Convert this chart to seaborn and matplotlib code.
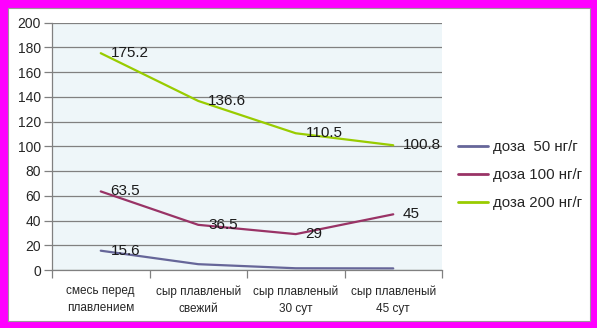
import matplotlib
matplotlib.use("Agg")
import matplotlib.pyplot as plt
from matplotlib.patches import Rectangle
import seaborn as sns
import pandas as pd

categories = ["смесь перед\nплавлением", "сыр плавленый\nсвежий",
              "сыр плавленый\n30 сут", "сыр плавленый\n45 сут"]
series_names = ["доза  50 нг/г", "доза 100 нг/г", "доза 200 нг/г"]
dose_50 = [15.6, 4.7, 1.4, 1.3]
dose_100 = [63.5, 36.5, 29, 45]
dose_200 = [175.2, 136.6, 110.5, 100.8]
label_50 = ["15.6", None, None, None]
label_100 = ["63.5", "36.5", "29", "45"]
label_200 = ["175.2", "136.6", "110.5", "100.8"]
y_ticks = [0, 20, 40, 60, 80, 100, 120, 140, 160, 180, 200]

colors = ["#666699", "#993366", "#99cc00"]

values = [dose_50, dose_100, dose_200]
labels = [label_50, label_100, label_200]
rows = []
for name, vals in zip(series_names, values):
    for i, v in enumerate(vals):
        rows.append({"pos": i, "value": v, "series": name})
df = pd.DataFrame(rows)

sns.set_style("white")
plt.rcParams["font.family"] = ["Liberation Sans", "DejaVu Sans"]

W, H = 597, 328
fig = plt.figure(figsize=(W / 100, H / 100), dpi=100, facecolor="#ff00ff")
# white card inside the magenta frame
card = Rectangle((8 / W, 7 / H), 582 / W, 313 / H,
                 transform=fig.transFigure, facecolor="white",
                 edgecolor="#9a9a9a", linewidth=0.8, zorder=-10)
fig.add_artist(card)

ax = fig.add_axes([52 / W, 58 / H, 390 / W, 247.5 / H])
ax.set_zorder(1)
ax.set_facecolor("#eef6f9")

sns.lineplot(data=df, x="pos", y="value", hue="series", palette=colors,
             hue_order=series_names, linewidth=1.6, ax=ax, legend=True)

for vals, labs in zip(values, labels):
    for i, (v, t) in enumerate(zip(vals, labs)):
        if t is not None:
            ax.annotate(t, (i, v), xytext=(7, 0), textcoords="offset points",
                        ha="left", va="center", fontsize=11, color="#1a1a1a")

ax.set_xlim(-0.5, 3.5)
ax.set_ylim(0, 200)
ax.set_yticks(y_ticks)
ax.yaxis.grid(True, color="#808080", linewidth=0.9)
ax.set_axisbelow(True)
ax.tick_params(axis="y", labelsize=10, length=6, color="#808080",
               width=0.9, direction="out", pad=2, left=True)

ax.set_xticks([-0.5, 0.5, 1.5, 2.5, 3.5])
ax.set_xticklabels([])
ax.tick_params(axis="x", which="major", length=6, color="#808080", width=0.9,
               direction="out", bottom=True)
ax.set_xticks([0, 1, 2, 3], minor=True)
ax.set_xticklabels(categories, minor=True, fontsize=8.5, linespacing=1.55)
ax.tick_params(axis="x", which="minor", length=0, pad=11)

for side in ["top", "right"]:
    ax.spines[side].set_visible(False)
for side in ["left", "bottom"]:
    ax.spines[side].set_color("#808080")
    ax.spines[side].set_linewidth(0.9)

ax.set_xlabel("")
ax.set_ylabel("")

leg = ax.legend(loc="upper left", bbox_to_anchor=((452 - 52) / 390, (270 - 134) / 247.5),
                frameon=False, fontsize=10.8, handlelength=2.0, handletextpad=0.35,
                labelspacing=0.95, borderaxespad=0)
for line in leg.get_lines():
    line.set_linewidth(2)

fig.savefig("out.png", dpi=100, facecolor=fig.get_facecolor())
